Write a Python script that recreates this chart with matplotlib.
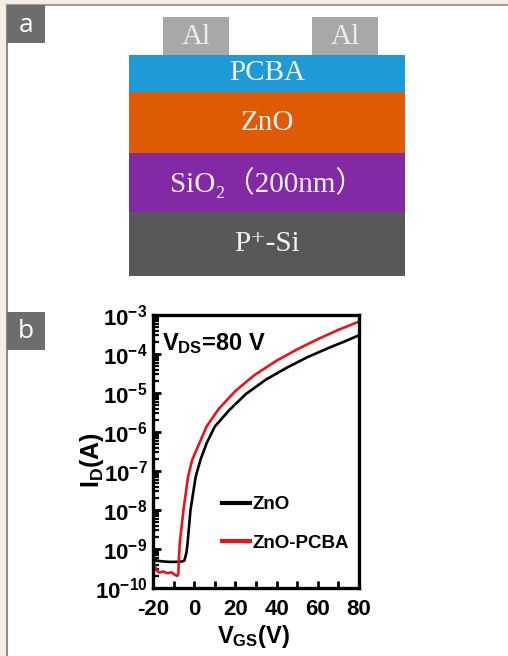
import numpy as np
import matplotlib
matplotlib.use("Agg")
import matplotlib.pyplot as plt
from matplotlib.patches import Rectangle
from matplotlib.ticker import LogLocator, MultipleLocator, NullFormatter

plt.rcParams['font.family'] = 'Liberation Sans'
plt.rcParams['font.weight'] = 'bold'
plt.rcParams['axes.labelweight'] = 'bold'
plt.rcParams['axes.unicode_minus'] = False
plt.rcParams['mathtext.fontset'] = 'custom'
plt.rcParams['mathtext.rm'] = 'Liberation Sans:bold'
plt.rcParams['mathtext.it'] = 'Liberation Sans:bold'
plt.rcParams['mathtext.bf'] = 'Liberation Sans:bold'
plt.rcParams['mathtext.default'] = 'rm'

# device stack (bottom -> top), thickness in drawing units
layer_names = ['P\u207a-Si', 'SiO\u2082\uff08200nm\uff09', 'ZnO', 'PCBA']
layer_thick = [64, 59, 61, 37]
layer_colors = ['#585858', '#8229a6', '#de5a04', '#1e9ad6']
pad_label = 'Al'
pad_left = [34, 183]
pad_w = 66
pad_h = 38

# transfer curves, V_GS (V) and log10(I_D)
vgs_zno = [-20, -18, -15, -12, -9, -6, -4.8, -3.8, -3.3, -1.8, 0.7, 3.0, 6.0,
           10, 17, 25, 35, 45, 55, 65, 72, 80]
log_id_zno = [-9.2, -9.3, -9.32, -9.33, -9.33, -9.32, -9.3, -9.1, -8.9, -8.0,
              -7.15, -6.72, -6.29, -5.86, -5.44, -5.03, -4.65, -4.35, -4.08,
              -3.85, -3.7, -3.52]
vgs_pcba = [-20, -19.5, -18.5, -17, -15, -13, -11, -9.5, -8.2, -7.7, -7.4, -7.0,
            -5.2, -3.0, -1.0, 2.5, 6, 12, 20, 29, 40, 50, 60, 70, 80]
log_id_pcba = [-8.85, -9.36, -9.54, -9.6, -9.58, -9.62, -9.6, -9.66, -9.69, -9.62,
               -9.2, -8.85, -8.0, -7.15, -6.72, -6.29, -5.86, -5.40, -4.95, -4.55,
               -4.17, -3.88, -3.62, -3.38, -3.17]

W, H = 508, 656
fig = plt.figure(figsize=(W / 100, H / 100), dpi=100)
fig.patch.set_facecolor('#f5ede3')

# white panel with grey border on left/top (background axes)
bg = fig.add_axes([7 / W, 0, 1 - 7 / W, 1 - 5 / H])
bg.set_zorder(0)
bg.set_facecolor('white')
bg.set_xticks([])
bg.set_yticks([])
for side in ['right', 'bottom']:
    bg.spines[side].set_visible(False)
bg.spines['left'].set_color('#8c8c8c')
bg.spines['top'].set_color('#a0a0a0')
bg.spines['left'].set_linewidth(1.5)
bg.spines['top'].set_linewidth(1.5)

# panel letters
for lab, top in [('a', 5), ('b', 312)]:
    fig.patches.append(Rectangle((7 / W, 1 - (top + 38) / H), 38 / W, 38 / H,
                                 transform=fig.transFigure, facecolor='#6d6d6d',
                                 edgecolor='none', zorder=5))
    fig.text(26 / W, 1 - (top + 20) / H, lab, color='white', fontsize=19,
             family='Open Sans', weight='normal', ha='center', va='center', zorder=6)

# ---- panel a: device structure
ax_d = fig.add_axes([129 / W, 1 - 276 / H, 276 / W, 259 / H])
ax_d.set_zorder(2)
stack_w = 276
bottoms = np.concatenate([[0], np.cumsum(layer_thick)[:-1]])
ax_d.bar(0, layer_thick, width=stack_w, bottom=bottoms, align='edge',
         color=layer_colors, edgecolor='none')
top_stack = sum(layer_thick)
ax_d.bar(pad_left, pad_h, width=pad_w, bottom=top_stack, align='edge',
         color='#a8a8a8', edgecolor='none')
serif = ['Liberation Serif', 'DejaVu Serif', 'Noto Sans CJK SC']
for name, b, t in zip(layer_names, bottoms, layer_thick):
    ax_d.text(stack_w / 2, b + t / 2, name, ha='center', va='center',
              color='#f4f4f4', fontsize=21, family=serif, weight='normal')
for xl in pad_left:
    ax_d.text(xl + pad_w / 2, top_stack + pad_h / 2 - 1, pad_label, ha='center',
              va='center', color='#ececec', fontsize=21, family=serif, weight='normal')
ax_d.set_xlim(0, stack_w)
ax_d.set_ylim(0, top_stack + pad_h)
ax_d.axis('off')

# ---- panel b: transfer curves
ax = fig.add_axes([153 / W, 1 - 588 / H, 206 / W, 273 / H])
ax.set_zorder(2)
ax.semilogy(vgs_zno, 10 ** np.array(log_id_zno), color='black', lw=1.9, label='ZnO')
ax.semilogy(vgs_pcba, 10 ** np.array(log_id_pcba), color='#e8141c', lw=1.9,
            label='ZnO-PCBA')
ax.set_xlim(-20, 80)
ax.set_ylim(1e-10, 1e-3)

for s in ax.spines.values():
    s.set_linewidth(2.4)

ax.xaxis.set_major_locator(MultipleLocator(20))
ax.xaxis.set_minor_locator(MultipleLocator(10))
ax.yaxis.set_major_locator(LogLocator(base=10, numticks=20))
ax.yaxis.set_minor_locator(LogLocator(base=10, subs=np.arange(2, 10), numticks=20))
ax.yaxis.set_minor_formatter(NullFormatter())
ax.tick_params(which='both', direction='in', top=False, right=False, width=2)
ax.tick_params(which='major', length=6, labelsize=16, pad=4)
ax.tick_params(which='minor', length=4, width=1.6)
ax.tick_params(axis='x', which='major', length=5, pad=8)
ax.tick_params(axis='x', which='minor', length=5, width=2)

ax.set_ylabel('$I_D$(A)', fontsize=18)
ax.yaxis.set_label_coords(-0.23, 0.47)
ax.set_xlabel('$V_{GS}$(V)', fontsize=17)
ax.xaxis.set_label_coords(0.49, -0.13)

ax.text(0.045, 0.94, '$V_{DS}$=80 V', transform=ax.transAxes, ha='left', va='top',
        fontsize=17)

leg = ax.legend(loc='center left', bbox_to_anchor=(0.335, 0.235), frameon=False,
                borderpad=0, borderaxespad=0, handlelength=1.5, handletextpad=0.1,
                labelspacing=1.15, prop={'size': 13.5, 'weight': 'bold'})
for l in leg.get_lines():
    l.set_linewidth(3)

fig.savefig('out.png', dpi=100, facecolor=fig.get_facecolor())
